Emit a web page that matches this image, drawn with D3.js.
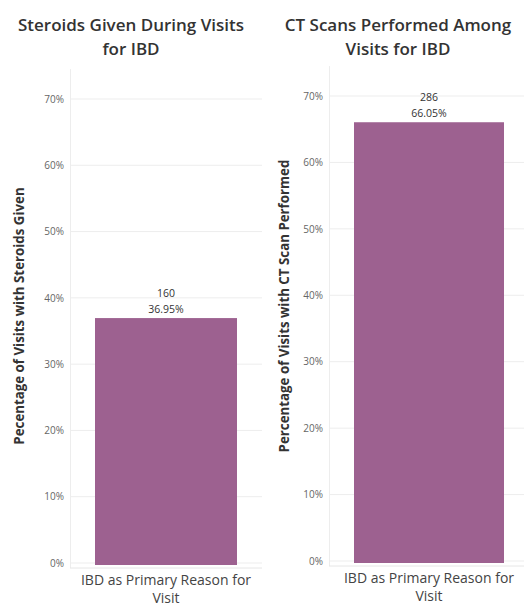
<!DOCTYPE html>
<html>
<head>
<meta charset="utf-8">
<script src="https://cdn.jsdelivr.net/npm/d3@7"></script>
<style>
  body { margin: 0; background: #fff; }
  svg { font-family: "Open Sans", "Noto Sans", sans-serif; }
</style>
</head>
<body>
<div id="chart"></div>
<script>
// data
var categories = ['IBD as Primary Reason for Visit'];
var steroidCounts = [160];
var steroidPct = [0.3695];
var ctCounts = [286];
var ctPct = [0.6605];
var tickValues = [0, 0.1, 0.2, 0.3, 0.4, 0.5, 0.6, 0.7];

var panels = [
  {
    title: ['Steroids Given During Visits', 'for IBD'],
    yTitle: 'Pecentage of Visits with Steroids Given',
    counts: steroidCounts, pct: steroidPct,
    left: 70, right: 262, top: 99, bottom: 563, titleX: 131,
    barPad: [25, 25], yTitleX: 24, yTitleY: 316
  },
  {
    title: ['CT Scans Performed Among', 'Visits for IBD'],
    yTitle: 'Percentage of Visits with CT Scan Performed',
    counts: ctCounts, pct: ctPct,
    left: 329, right: 524, top: 96, bottom: 561, titleX: 398,
    barPad: [25, 20], yTitleX: 289, yTitleY: 306
  }
];

var width = 524, height = 608;
var barColor = '#9d6190';

var svg = d3.select('#chart').append('svg')
  .attr('width', width)
  .attr('height', height);

panels.forEach(function(p) {
  var g = svg.append('g');

  var y = d3.scaleLinear().domain([0, 0.7]).range([p.bottom, p.top]);
  var x = d3.scaleBand().domain(categories)
    .range([p.left + p.barPad[0], p.right - p.barPad[1]]);

  // gridlines
  g.selectAll('.grid').data(tickValues).enter().append('line')
    .attr('x1', p.left).attr('x2', p.right)
    .attr('y1', function(d) { return y(d); })
    .attr('y2', function(d) { return y(d); })
    .attr('stroke', '#ededed')
    .attr('stroke-width', 1);

  // vertical axis line
  g.append('line')
    .attr('x1', p.left + 0.5).attr('x2', p.left + 0.5)
    .attr('y1', y(0.745)).attr('y2', p.bottom + 5)
    .attr('stroke', '#ededed');

  // bottom axis line
  g.append('line')
    .attr('x1', p.left).attr('x2', p.right)
    .attr('y1', p.bottom + 5).attr('y2', p.bottom + 5)
    .attr('stroke', '#e6e6e6');

  // y tick labels
  var axis = d3.axisLeft(y).tickValues(tickValues)
    .tickFormat(d3.format('.0%')).tickSize(0).tickPadding(6);
  var ax = g.append('g').attr('transform', 'translate(' + p.left + ',0)').call(axis);
  ax.select('.domain').remove();
  ax.selectAll('text')
    .attr('fill', '#666')
    .style('font-size', '10px')
    .style('font-family', '"Open Sans", "Noto Sans", sans-serif');

  // bars
  g.selectAll('.bar').data(categories).enter().append('rect')
    .attr('x', function(d) { return x(d); })
    .attr('width', x.bandwidth())
    .attr('y', function(d, i) { return y(p.pct[i]); })
    .attr('height', function(d, i) { return p.bottom + 2 - y(p.pct[i]); })
    .attr('fill', barColor);

  // bar labels
  categories.forEach(function(c, i) {
    var cx = x(c) + x.bandwidth() / 2;
    var top = y(p.pct[i]);
    g.append('text')
      .attr('x', cx).attr('y', top - 21)
      .attr('text-anchor', 'middle')
      .attr('fill', '#333')
      .style('font-size', '10.5px')
      .text(p.counts[i]);
    g.append('text')
      .attr('x', cx).attr('y', top - 5)
      .attr('text-anchor', 'middle')
      .attr('fill', '#333')
      .style('font-size', '10.5px')
      .text(d3.format('.2%')(p.pct[i]));

    // x category label (wrapped)
    var words = ['IBD as Primary Reason for', 'Visit'];
    words.forEach(function(w, k) {
      g.append('text')
        .attr('x', cx).attr('y', p.bottom + 22 + k * 18)
        .attr('text-anchor', 'middle')
        .attr('fill', '#444')
        .style('font-size', '14px')
        .text(w);
    });
  });

  // title
  p.title.forEach(function(t, k) {
    g.append('text')
      .attr('x', p.titleX).attr('y', 31 + k * 24)
      .attr('text-anchor', 'middle')
      .attr('fill', '#333')
      .style('font-size', '17px')
      .style('font-weight', '600')
      .text(t);
  });

  // y axis title
  g.append('text')
    .attr('transform', 'translate(' + p.yTitleX + ',' + p.yTitleY + ') rotate(-90)')
    .attr('text-anchor', 'middle')
    .attr('fill', '#333')
    .style('font-size', '13.3px')
    .style('font-weight', '700')
    .text(p.yTitle);
});
</script>
</body>
</html>
